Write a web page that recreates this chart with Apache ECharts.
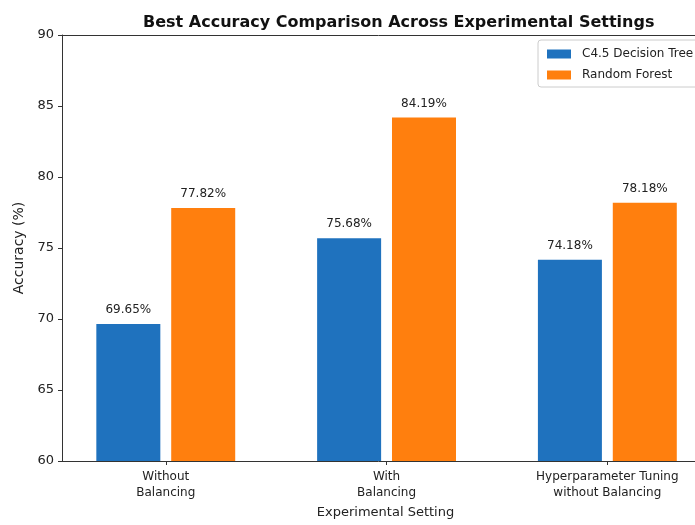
<!DOCTYPE html>
<html>
<head>
<meta charset="utf-8">
<script src="https://cdn.jsdelivr.net/npm/echarts@6/dist/echarts.min.js"></script>
<style>
  html, body { margin: 0; padding: 0; background: #fff; }
  #chart { width: 695px; height: 525px; }
</style>
</head>
<body>
<div id="chart"></div>
<script>
const categories = ['Without\nBalancing', 'With\nBalancing', 'Hyperparameter Tuning\nwithout Balancing']
const c45Values = [69.65, 75.68, 74.18]
const rfValues = [77.82, 84.19, 78.18]
const yTicks = [60, 65, 70, 75, 80, 85, 90]

const font = 'DejaVu Sans'
const ink = '#222'

const chart = echarts.init(document.getElementById('chart'))

// category index is used as x so the bars sit like matplotlib's offset bars
const toPairs = vals => vals.map((v, i) => [i, v])

chart.setOption({
  backgroundColor: '#fff',
  animation: false,
  title: {
    text: 'Best Accuracy Comparison Across Experimental Settings',
    left: 138,
    top: 10,
    textStyle: { fontFamily: font, fontSize: 16, fontWeight: 'bold', color: '#111' }
  },
  legend: {
    orient: 'vertical',
    left: 538,
    top: 40,
    icon: 'rect',
    itemWidth: 24,
    itemHeight: 9,
    itemGap: 9,
    padding: [8, 8, 6, 9],
    borderColor: '#ccc',
    borderWidth: 1,
    borderRadius: 3,
    textStyle: { fontFamily: font, fontSize: 12, color: ink, padding: [0, 0, 0, 6] },
    data: ['C4.5 Decision Tree', 'Random Forest']
  },
  grid: {
    left: 62,
    right: 0,
    top: 35,
    bottom: 64,
    outerBoundsMode: 'none'
  },
  xAxis: [
    {
      type: 'value',
      min: -0.47,
      max: 2.397,
      name: 'Experimental Setting',
      nameLocation: 'middle',
      nameGap: 44,
      nameTextStyle: { fontFamily: font, fontSize: 13, color: ink, padding: [0, 0, 0, 14] },
      splitLine: { show: false },
      axisLine: { show: true, onZero: false, lineStyle: { color: '#333', width: 1 } },
      axisTick: { show: true, length: 4, customValues: [0, 1, 2], lineStyle: { color: '#333' } },
      axisLabel: {
        customValues: [0, 1, 2],
        margin: 8,
        fontFamily: font,
        fontSize: 12,
        lineHeight: 16,
        color: ink,
        formatter: v => categories[Math.round(v)]
      }
    },
    {
      type: 'value',
      position: 'top',
      min: -0.47,
      max: 2.397,
      splitLine: { show: false },
      axisLine: { show: true, onZero: false, lineStyle: { color: '#333', width: 1 } },
      axisTick: { show: false },
      axisLabel: { show: false }
    }
  ],
  yAxis: {
    type: 'value',
    min: 60,
    max: 90,
    interval: 5,
    name: 'Accuracy (%)',
    nameLocation: 'middle',
    nameGap: 35,
    nameTextStyle: { fontFamily: font, fontSize: 14, color: ink },
    splitLine: { show: false },
    axisLine: { show: true, onZero: false, lineStyle: { color: '#333', width: 1 } },
    axisTick: { show: true, length: 4, lineStyle: { color: '#333' } },
    axisLabel: {
      fontFamily: font,
      fontSize: 13,
      color: ink,
      margin: 8,
      formatter: v => (yTicks.includes(v) ? String(v) : '')
    }
  },
  series: [
    {
      name: 'C4.5 Decision Tree',
      type: 'bar',
      data: toPairs(c45Values),
      barWidth: 64,
      barGap: '17%',
      itemStyle: { color: '#1f72be' },
      label: {
        show: true,
        position: 'top',
        distance: 8,
        fontFamily: font,
        fontSize: 12,
        color: ink,
        formatter: p => p.value[1].toFixed(2) + '%'
      }
    },
    {
      name: 'Random Forest',
      type: 'bar',
      data: toPairs(rfValues),
      barWidth: 64,
      barGap: '17%',
      itemStyle: { color: '#ff7f0e' },
      label: {
        show: true,
        position: 'top',
        distance: 8,
        fontFamily: font,
        fontSize: 12,
        color: ink,
        formatter: p => p.value[1].toFixed(2) + '%'
      }
    }
  ]
})
</script>
</body>
</html>
